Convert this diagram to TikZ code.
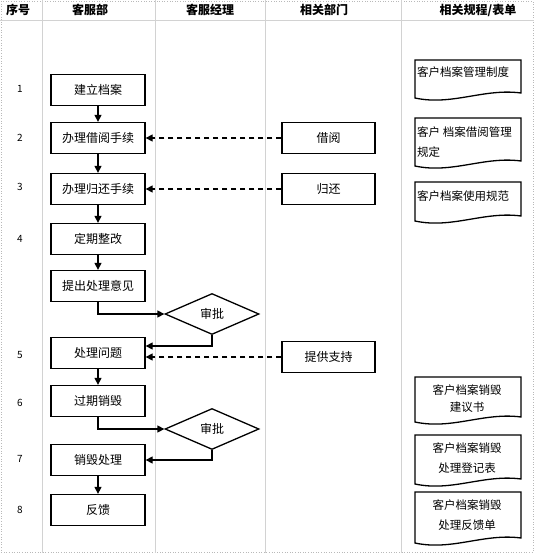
\documentclass[tikz,border=0pt]{standalone}
\usepackage{fontspec}
\setmainfont{Noto Sans CJK SC}
\usetikzlibrary{arrows.meta,shapes.geometric}
\begin{document}
\begin{tikzpicture}[x=1pt,y=-1pt,
  grid/.style={draw=gray!35,line width=0.7pt},
  outer/.style={draw=gray!55,line width=0.6pt,dotted},
  hdr/.style={font=\fontsize{12}{14}\selectfont\bfseries,inner sep=0pt},
  rownum/.style={font=\fontsize{10}{11}\selectfont,inner sep=0pt},
  box/.style={draw,line width=1.3pt,minimum width=94pt,minimum height=31pt,inner sep=0pt,font=\fontsize{12}{13}\selectfont},
  dia/.style={diamond,draw,line width=1.3pt,minimum width=94pt,minimum height=41pt,inner sep=0pt,aspect=2.3,font=\fontsize{12}{13}\selectfont},
  doc/.style={draw,line width=1.3pt},
  doct/.style={inner sep=0pt,font=\fontsize{11.5}{20}\selectfont},
  arr/.style={line width=1.3pt,-{Triangle[length=7pt,width=7pt]}},
  darr/.style={arr,dash pattern=on 5pt off 4pt}]
\useasboundingbox (0,0) rectangle (534,553);
% frame and grid
\draw[outer] (1,1) rectangle (533,552);
\draw[grid] (0,20) -- (534,20);
\foreach \gx in {42,155,265,401} \draw[grid] (\gx,0) -- (\gx,553);
% headers
\node[hdr] (h1) at (18,10) {序号};
\node[hdr] (h2) at (90,10) {客服部};
\node[hdr] (h3) at (210,10) {客服经理};
\node[hdr] (h4) at (324,10) {相关部门};
\node[hdr] (h5) at (478,10) {相关规程/表单};
% row numbers
\node[rownum] (r1) at (20,89) {1};
\node[rownum] (r2) at (20,138) {2};
\node[rownum] (r3) at (20,187) {3};
\node[rownum] (r4) at (20,239) {4};
\node[rownum] (r5) at (20,355) {5};
\node[rownum] (r6) at (20,403) {6};
\node[rownum] (r7) at (20,459) {7};
\node[rownum] (r8) at (20,510) {8};
% customer service column
\node[box] (jlda) at (98,90) {建立档案};
\node[box] (jysx) at (98,138) {办理借阅手续};
\node[box] (ghsx) at (98,189) {办理归还手续};
\node[box] (dqzg) at (98,239) {定期整改};
\node[box] (tcyj) at (98,286) {提出处理意见};
\node[box] (clwt) at (98,353) {处理问题};
\node[box] (gqxh) at (98,401) {过期销毁};
\node[box] (xhcl) at (98,460) {销毁处理};
\node[box] (fk)   at (98,510) {反馈};
% manager diamonds
\node[dia] (sp1) at (212,314) {审批};
\node[dia] (sp2) at (212,429) {审批};
% departments
\node[box,minimum width=93pt] (jy) at (328.5,138) {借阅};
\node[box,minimum width=93pt] (gh) at (328.5,189) {归还};
\node[box,minimum width=93pt] (tgzc) at (328.5,357) {提供支持};
% connectors
\draw[arr] (jlda) -- (jysx);
\draw[arr] (jysx) -- (ghsx);
\draw[arr] (ghsx) -- (dqzg);
\draw[arr] (dqzg) -- (tcyj);
\draw[arr] (tcyj.south) |- (sp1.west);
\draw[arr] (sp1.south) |- ([yshift=7pt]clwt.east);
\draw[arr] (clwt) -- (gqxh);
\draw[arr] (gqxh.south) |- (sp2.west);
\draw[arr] (sp2.south) |- (xhcl.east);
\draw[arr] (xhcl) -- (fk);
\draw[darr] (jy) -- (jysx);
\draw[darr] (gh) -- (ghsx);
\draw[darr] (tgzc.west) -- (tgzc.west -| clwt.east);
% documents
\draw[doc] (415,60) -- (521,60) -- (521,93) .. controls (484,88) and (452,106) .. (415,98) -- cycle;
\draw[doc] (415,118) -- (521,118) -- (521,161) .. controls (484,156) and (452,174) .. (415,166) -- cycle;
\draw[doc] (415,182) -- (521,182) -- (521,216) .. controls (484,211) and (452,229) .. (415,221) -- cycle;
\draw[doc] (415,377) -- (521,377) -- (521,417) .. controls (484,412) and (452,430) .. (415,422) -- cycle;
\draw[doc] (415,435) -- (521,435) -- (521,479) .. controls (484,474) and (452,492) .. (415,484) -- cycle;
\draw[doc] (415,492) -- (521,492) -- (521,538) .. controls (484,533) and (452,551) .. (415,543) -- cycle;
\node[doct,anchor=west] (d1) at (417,72) {客户档案管理制度};
\node[doct,anchor=west,align=left] (d2) at (417,142) {客户 档案借阅管理\\规定};
\node[doct,anchor=west] (d3) at (417,196) {客户档案使用规范};
\node[doct,align=center,font=\fontsize{11.5}{17}\selectfont] (d4) at (467,398.5) {客户档案销毁\\建议书};
\node[doct,align=center] (d5) at (467,458) {客户档案销毁\\处理登记表};
\node[doct,align=center] (d6) at (467,515.5) {客户档案销毁\\处理反馈单};
\end{tikzpicture}
\end{document}
